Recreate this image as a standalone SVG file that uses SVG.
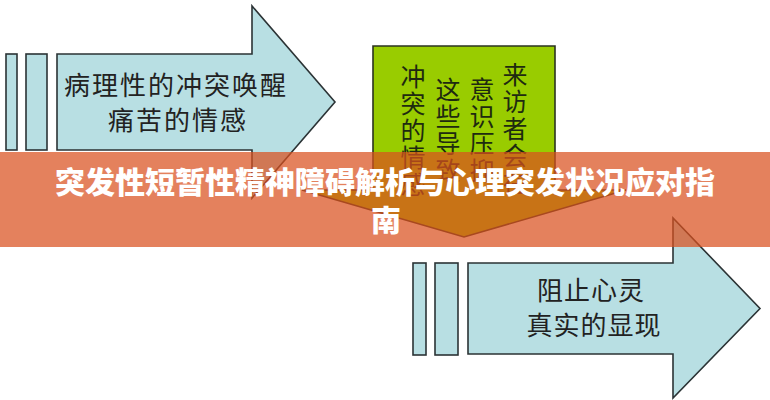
<svg xmlns="http://www.w3.org/2000/svg" width="770" height="400" viewBox="0 0 770 400">
  <style>
    .blue { fill: #B8DFE3; stroke: #2b3335; stroke-width: 1.6; stroke-linejoin: miter; }
    .green { fill: #99CC00; stroke: #2b3320; stroke-width: 1.6; }
    .lbl { font-family: "Noto Sans CJK SC", "Noto Sans CJK TC", serif; font-size: 26px; fill: #222; text-anchor: middle; letter-spacing: 2px; }
    .vlbl { font-family: "Noto Sans CJK SC", "Noto Sans CJK TC", serif; font-size: 25px; fill: #1e2a10; writing-mode: vertical-rl; letter-spacing: 2px; }
    .title { font-family: "Noto Sans CJK SC", "Noto Sans CJK TC", sans-serif; font-size: 30px; font-weight: 900; fill: #ffffff; text-anchor: middle; }
  </style>
  <rect width="770" height="400" fill="#ffffff"/>

  <g id="node-top-arrow">
    <rect class="blue" x="6" y="54" width="11" height="96"/>
    <rect class="blue" x="26" y="54" width="21" height="96"/>
    <path class="blue" d="M57,54 H252 V6 L335,102 L252,198 V150 H57 Z"/>
    <text class="lbl" x="176" y="95">病理性的冲突唤醒</text>
    <text class="lbl" x="178" y="130">痛苦的情感</text>
  </g>

  <g id="node-down-arrow">
    <path class="green" d="M373,46 H555 V190 H626 L464,237 L302,190 H373 Z"/>
    <text class="vlbl" x="515" y="62">来访者会在</text>
    <text class="vlbl" x="482" y="77">意识压抑</text>
    <text class="vlbl" x="448" y="77">这些导致</text>
    <text class="vlbl" x="413" y="64">冲突的情感</text>
  </g>

  <g id="node-bottom-arrow">
    <rect class="blue" x="413" y="263" width="13" height="92"/>
    <rect class="blue" x="435" y="263" width="23" height="92"/>
    <path class="blue" d="M468,263 H673 V218 L760,308.5 L673,398 V354 H468 Z"/>
    <text class="lbl" x="591" y="300" style="letter-spacing:1px">阻止心灵</text>
    <text class="lbl" x="594" y="335" style="letter-spacing:1px">真实的显现</text>
  </g>

  <g id="connectors"></g>

  <g id="banner">
    <rect x="0" y="152" width="770" height="95" fill="#D9501E" fill-opacity="0.72"/>
    <text class="title" x="385" y="193">突发性短暂性精神障碍解析与心理突发状况应对指</text>
    <text class="title" x="386" y="231">南</text>
  </g>
</svg>
